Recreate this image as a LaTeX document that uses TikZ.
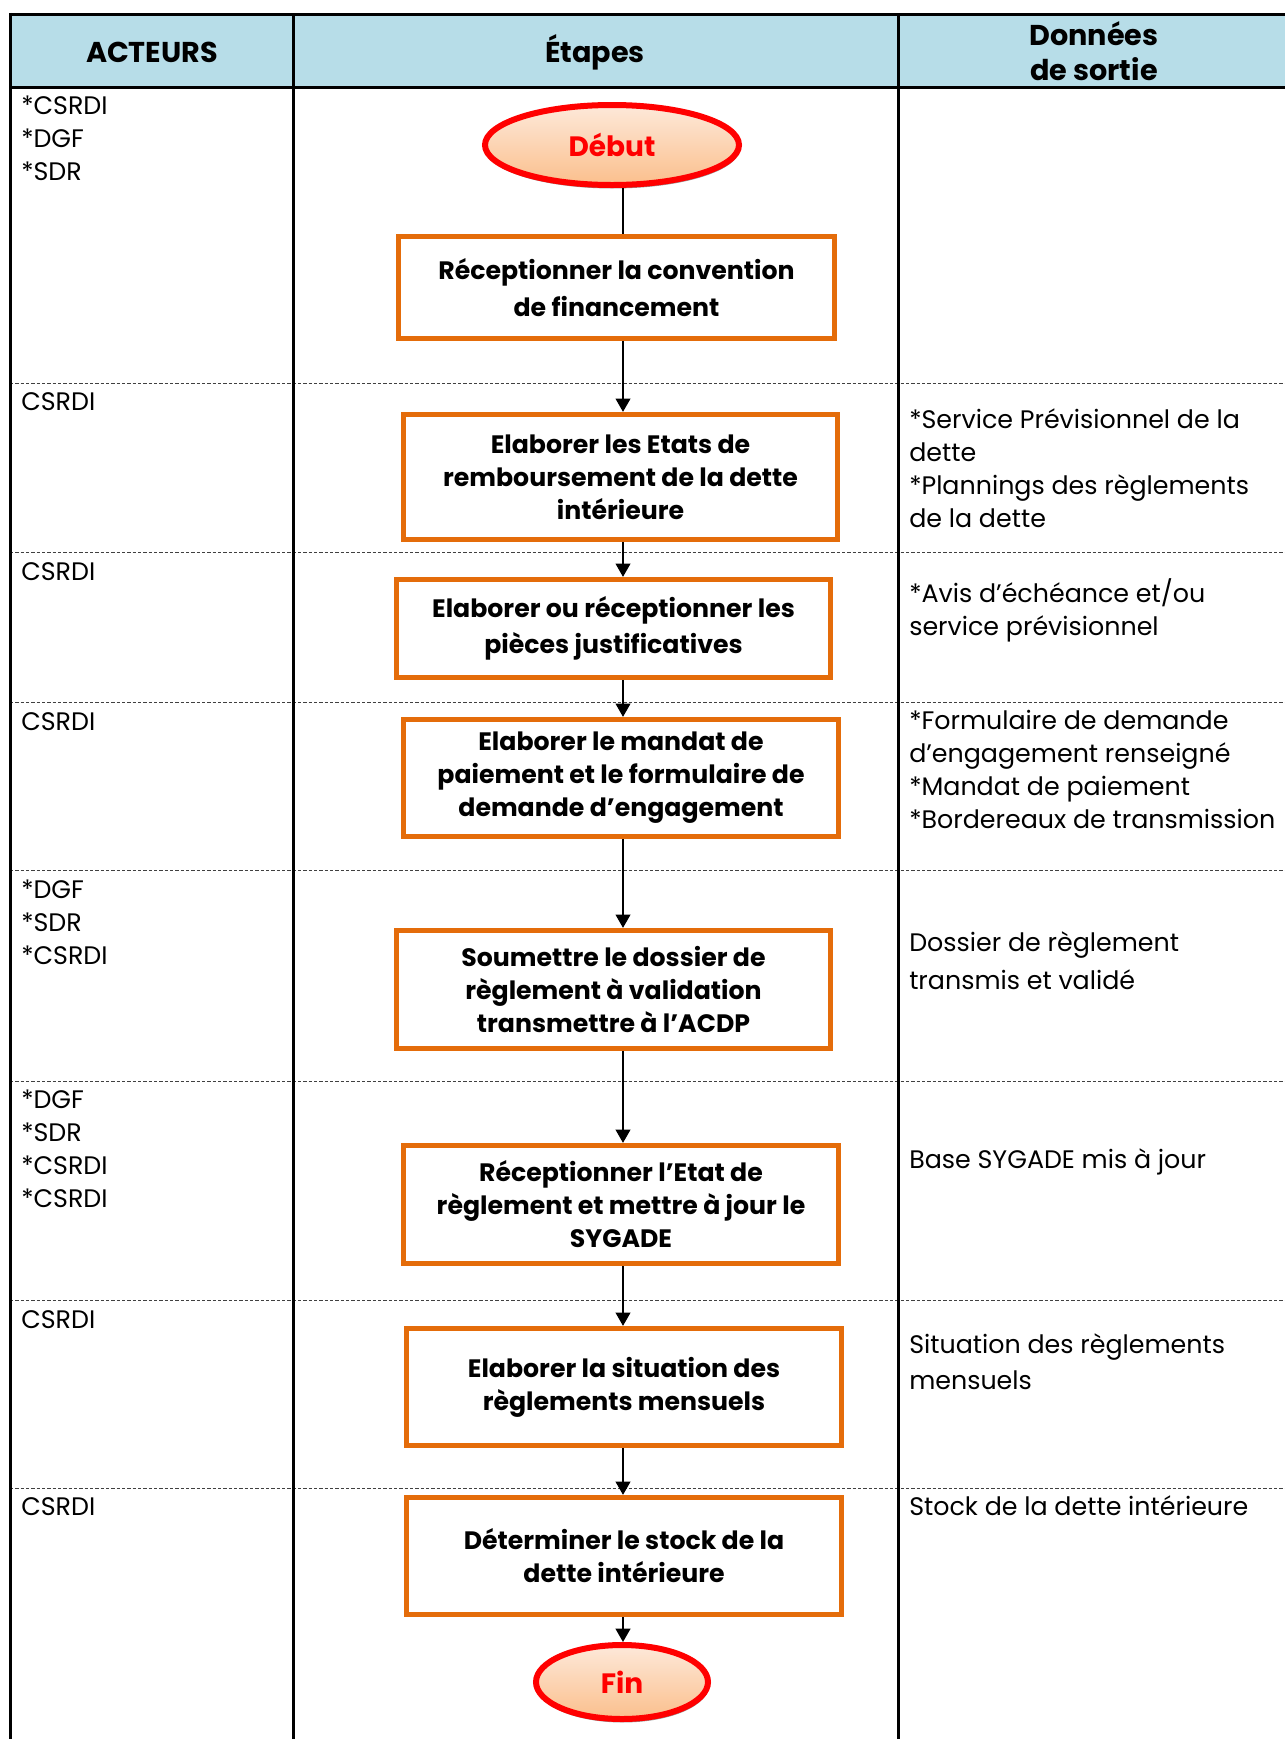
\documentclass[tikz,border=0pt]{standalone}
\usepackage{fontspec}
\setmainfont{Poppins}
\usetikzlibrary{arrows.meta,shapes.geometric,shadows}

\definecolor{headblue}{HTML}{B7DDE8}
\definecolor{steporange}{HTML}{E46C0A}
\definecolor{termred}{HTML}{FF0000}
\definecolor{termtop}{HTML}{FDE9DA}
\definecolor{termbot}{HTML}{FBBF8C}
\definecolor{dashgray}{HTML}{404040}

\tikzset{
  gridline/.style={line width=2.25pt, black},
  rowsep/.style={line width=0.75pt, dashgray, dash pattern=on 2.5pt off 1.5pt},
  boxsize/.style 2 args={minimum width=#1*0.75pt, minimum height=#2*0.75pt},
  stepbox/.style={draw=steporange, line width=3.9pt, fill=white, align=center,
    inner sep=0pt, font=\bfseries\fontsize{18.9}{24.75}\selectfont},
  terminal/.style={ellipse, draw=termred, line width=4.5pt, inner sep=0pt,
    top color=termtop, bottom color=termbot, text=termred,
    font=\bfseries\fontsize{21}{25}\selectfont,
    drop shadow={shadow xshift=0.6pt, shadow yshift=-2.6pt, fill=black!45, opacity=0.9}},
  headtext/.style={align=center, inner sep=0pt, font=\bfseries\fontsize{21.5}{26}\selectfont},
  celltext/.style={anchor=north west, align=left, inner sep=0pt,
    font=\fontsize{19}{24.75}\selectfont},
  flow/.style={line width=1.5pt, black},
  flowarrow/.style={flow, -{Triangle[width=11pt,length=10pt]}},
}

\begin{document}
\begin{tikzpicture}[x=0.75pt, y=-0.75pt]
  \useasboundingbox (0,0) rectangle (1285,1739);

  % header band
  \fill[headblue] (10,14) rectangle (1285,87);

  % row separators
  \foreach \yy in {383,552,702,870,1081,1300,1488}
    \draw[rowsep] (10,\yy) -- (1285,\yy);

  % table rules
  \draw[gridline] (10,14) -- (1285,14);
  \draw[gridline] (10,87) -- (1285,87);
  \draw[gridline] (10,12.9) -- (10,1739);
  \draw[gridline] (293,14) -- (293,1739);
  \draw[gridline] (898,14) -- (898,1739);

  % header titles
  \node[headtext] (hA) at (152,52) {ACTEURS};
  \node[headtext] (hE) at (595,52) {Étapes};
  \node[headtext, font=\bfseries\fontsize{21.5}{26.25}\selectfont] (hD) at (1094,51) {Données\\de sortie};

  % flow steps
  \coordinate (ax) at (623,0);
  \node[terminal, minimum width=254*0.75pt, minimum height=80*0.75pt] (deb) at (612,145) {Début};
  \node[stepbox, boxsize={436}{102}, font=\bfseries\fontsize{18.9}{27.75}\selectfont] (b1) at (616.5,287.5)
    {Réceptionner la convention\\de financement};
  \node[stepbox, boxsize={434}{125}] (b2) at (620.5,477)
    {Elaborer les Etats de\\remboursement de la dette\\intérieure};
  \node[stepbox, boxsize={434}{98}, font=\bfseries\fontsize{18.9}{27}\selectfont] (b3) at (613.5,628.5)
    {Elaborer ou réceptionner les\\pièces justificatives};
  \node[stepbox, boxsize={435}{117}] (b4) at (621,778)
    {Elaborer le mandat de\\paiement et le formulaire de\\demande d’engagement};
  \node[stepbox, boxsize={434}{118}] (b5) at (613.5,989.5)
    {Soumettre le dossier de\\règlement à validation\\transmettre à l’ACDP};
  \node[stepbox, boxsize={435}{118}] (b6) at (621,1204.5)
    {Réceptionner l’Etat de\\règlement et mettre à jour le\\SYGADE};
  \node[stepbox, boxsize={435}{117}] (b7) at (624,1387)
    {Elaborer la situation des\\règlements mensuels};
  \node[stepbox, boxsize={435}{117}] (b8) at (624,1556)
    {Déterminer le stock de la\\dette intérieure};
  \node[terminal, minimum width=172*0.75pt, minimum height=74*0.75pt] (fin) at (622,1682) {Fin};

  % connectors
  \draw[flow] (deb.south -| ax) -- (b1.north -| ax);
  \draw[flowarrow] (b1.south -| ax) -- (b2.north -| ax);
  \draw[flowarrow] (b2.south -| ax) -- (b3.north -| ax);
  \draw[flowarrow] (b3.south -| ax) -- (b4.north -| ax);
  \draw[flowarrow] (b4.south -| ax) -- (b5.north -| ax);
  \draw[flowarrow] (b5.south -| ax) -- (b6.north -| ax);
  \draw[flowarrow] (b6.south -| ax) -- (b7.north -| ax);
  \draw[flowarrow] (b7.south -| ax) -- (b8.north -| ax);
  \draw[flowarrow] (b8.south -| ax) -- (fin.north -| ax);

  % actors
  \node[celltext] (a1) at (21,96) {*CSRDI\\*DGF\\*SDR};
  \node[celltext] (a2) at (21,392) {CSRDI};
  \node[celltext] (a3) at (21,562) {CSRDI};
  \node[celltext] (a4) at (21,712) {CSRDI};
  \node[celltext] (a5) at (21,880) {*DGF\\*SDR\\*CSRDI};
  \node[celltext] (a6) at (21,1090) {*DGF\\*SDR\\*CSRDI\\*CSRDI};
  \node[celltext] (a7) at (21,1310) {CSRDI};
  \node[celltext] (a8) at (21,1497) {CSRDI};

  % outputs
  \node[celltext] (o2) at (909,408) {*Service Prévisionnel de la\\dette\\*Plannings des règlements\\de la dette};
  \node[celltext] (o3) at (909,578) {*Avis d’échéance et/ou\\service prévisionnel};
  \node[celltext] (o4) at (909,710) {*Formulaire de demande\\d’engagement renseigné\\*Mandat de paiement\\*Bordereaux de transmission};
  \node[celltext, font=\fontsize{19}{28.5}\selectfont] (o5) at (909,931) {Dossier de règlement\\transmis et validé};
  \node[celltext] (o6) at (909,1148) {Base SYGADE mis à jour};
  \node[celltext, font=\fontsize{19}{27}\selectfont] (o7) at (909,1333) {Situation des règlements\\mensuels};
  \node[celltext] (o8) at (909,1495) {Stock de la dette intérieure};
\end{tikzpicture}
\end{document}
